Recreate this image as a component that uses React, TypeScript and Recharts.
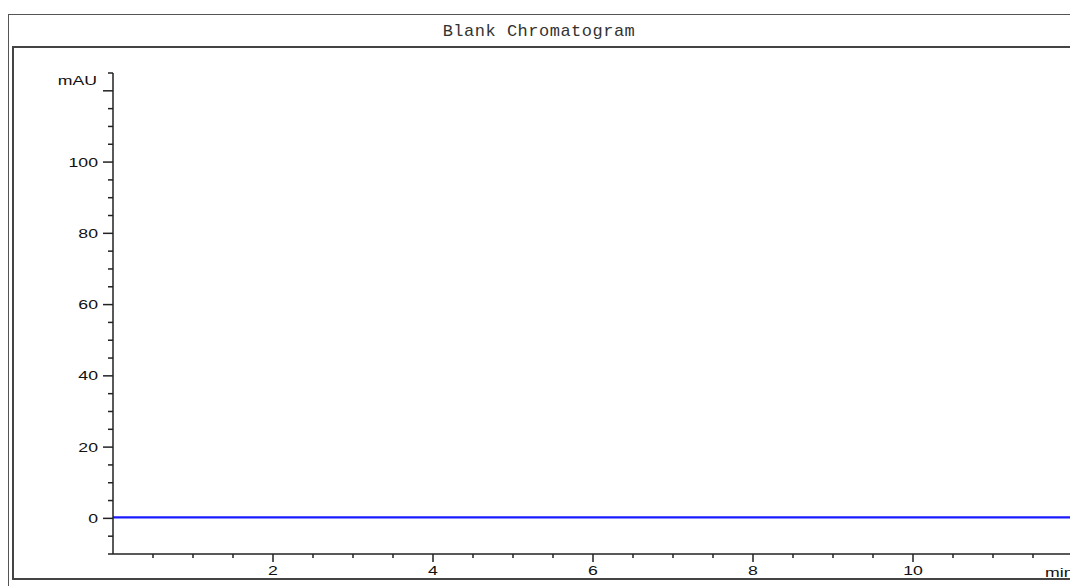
import React from 'react'
import { LineChart, Line, XAxis, YAxis, Label } from 'recharts'

// retention time (min) and detector signal (mAU) - flat blank baseline
const times = [0, 1, 2, 3, 4, 5, 6, 7, 8, 9, 10, 11, 12.2]
const signal = [0.3, 0.3, 0.3, 0.3, 0.3, 0.3, 0.3, 0.3, 0.3, 0.3, 0.3, 0.3, 0.3]

const xTicks = [0.5, 1, 1.5, 2, 2.5, 3, 3.5, 4, 4.5, 5, 5.5, 6, 6.5, 7, 7.5, 8, 8.5, 9, 9.5, 10, 10.5, 11, 11.5]
const xLabels = [2, 4, 6, 8, 10]
const yTicks = [-10, -5, 0, 5, 10, 15, 20, 25, 30, 35, 40, 45, 50, 55, 60, 65, 70, 75, 80, 85, 90, 95, 100, 105, 110, 115, 120, 125]
const yLabels = [0, 20, 40, 60, 80, 100]
const yMajor = [0, 20, 40, 60, 80, 100, 120]

const data = times.map((t, i) => ({ t, v: signal[i] }))

const FONT = '"Liberation Sans", Arial, sans-serif'
const STRETCH = 1.36
const INK = '#111'

function XTick({ x, y, payload }: any) {
  const major = xLabels.includes(payload.value)
  return (
    <g>
      <line x1={x} y1={y} x2={x} y2={y + (major ? 8 : 4)} stroke="#222" strokeWidth={1.5} />
      {major && (
        <text
          transform={`translate(${x},${y + 21}) scale(${STRETCH},1)`}
          textAnchor="middle"
          fontFamily={FONT}
          fontSize={13}
          fill={INK}
        >
          {payload.value}
        </text>
      )}
    </g>
  )
}

function YTick({ x, y, payload }: any) {
  const major = yMajor.includes(payload.value)
  const labeled = yLabels.includes(payload.value)
  return (
    <g>
      <line x1={x} y1={y} x2={x - (major ? 10 : 5)} y2={y} stroke="#222" strokeWidth={1.5} />
      {labeled && (
        <text
          transform={`translate(${x - 15},${y + 4.5}) scale(${STRETCH},1)`}
          textAnchor="end"
          fontFamily={FONT}
          fontSize={13}
          fill={INK}
        >
          {payload.value}
        </text>
      )}
    </g>
  )
}

function UnitLabel({ viewBox, text, dx, dy, anchor }: any) {
  return (
    <text
      transform={`translate(${viewBox.x + dx},${viewBox.y + dy}) scale(${STRETCH},1)`}
      textAnchor={anchor}
      fontFamily={FONT}
      fontSize={13}
      fill={INK}
    >
      {text}
    </text>
  )
}

export default function App() {
  return (
    <div
      style={{
        position: 'absolute',
        left: 0,
        top: 0,
        width: 1070,
        height: 586,
        overflow: 'hidden',
        background: '#fff',
      }}
    >
      {/* outer frame */}
      <div
        style={{
          position: 'absolute',
          left: 8,
          top: 14,
          width: 1120,
          height: 600,
          border: '1px solid #555',
        }}
      />
      {/* title strip */}
      <div
        style={{
          position: 'absolute',
          left: 8,
          top: 15,
          width: 1062,
          height: 33,
          lineHeight: '33px',
          textAlign: 'center',
          fontFamily: '"Liberation Mono", "Courier New", monospace',
          fontSize: 17,
          letterSpacing: 0.5,
          color: '#333',
        }}
      >
        Blank Chromatogram
      </div>
      {/* inner frame */}
      <div
        style={{
          position: 'absolute',
          left: 12,
          top: 46,
          width: 1120,
          height: 530,
          border: '2px solid #444',
        }}
      />
      <div style={{ position: 'absolute', left: 0, top: 0 }}>
        <LineChart width={1100} height={586} data={data} margin={{ top: 73, right: 11, left: 0, bottom: 2 }}>
          <XAxis
            dataKey="t"
            type="number"
            domain={[0, 12.2]}
            ticks={xTicks}
            interval={0}
            allowDataOverflow
            height={30}
            tickSize={0}
            tickMargin={0}
            tickLine={false}
            tick={<XTick />}
            axisLine={{ stroke: '#222', strokeWidth: 1.5 }}
          >
            <Label content={(p: any) => <UnitLabel {...p} text="min" dx={932} dy={23} anchor="start" />} />
          </XAxis>
          <YAxis
            type="number"
            domain={[-10, 125]}
            ticks={yTicks}
            interval={0}
            allowDataOverflow
            width={113}
            tickSize={0}
            tickMargin={0}
            tickLine={false}
            tick={<YTick />}
            axisLine={{ stroke: '#222', strokeWidth: 1.5 }}
          >
            <Label content={(p: any) => <UnitLabel {...p} text="mAU" dx={97} dy={12} anchor="end" />} />
          </YAxis>
          <Line
            dataKey="v"
            type="linear"
            stroke="#1a1aff"
            strokeWidth={2.2}
            dot={false}
            isAnimationActive={false}
          />
        </LineChart>
      </div>
    </div>
  )
}
